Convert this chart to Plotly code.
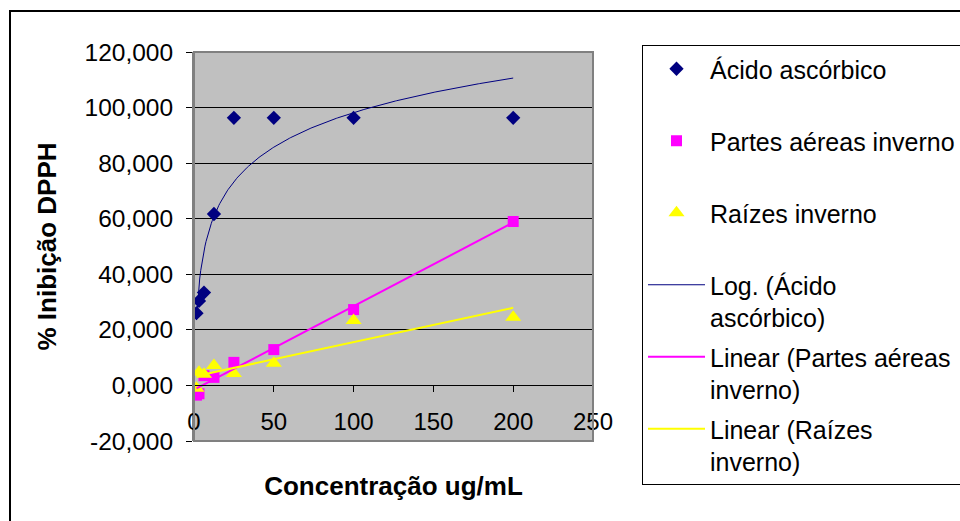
import numpy as np
import plotly.graph_objects as go

# ---- data ----
conc = [1.5625, 3.125, 6.25, 12.5, 25, 50, 100, 200]
acido_ascorbico = [26.0, 30.4, 33.4, 61.7, 96.3, 96.3, 96.3, 96.3]
partes_aereas = [-3.5, -3.0, 3.5, 2.9, 8.3, 12.9, 27.3, 59.0]
raizes = [-1.0, 4.7, 4.0, 7.2, 4.3, 8.0, 23.4, 24.5]

names = ["Ácido ascórbico", "Partes aéreas inverno", "Raízes inverno"]
trend_names = ["Log. (Ácido<br>ascórbico)", "Linear (Partes aéreas<br>inverno)", "Linear (Raízes<br>inverno)"]

y_tick_values = [-20, 0, 20, 40, 60, 80, 100, 120]
y_tick_labels = ["-20,000", "0,000", "20,000", "40,000", "60,000", "80,000", "100,000", "120,000"]
x_tick_values = [0, 50, 100, 150, 200, 250]
x_range = [0, 250]
y_range = [-20, 120]

x_title = "Concentração ug/mL"
y_title = "% Inibição DPPH"

# ---- trendlines (least-squares fits, as Excel does) ----
x = np.array(conc, dtype=float)
a_log, b_log = np.polyfit(np.log(x), np.array(acido_ascorbico), 1)
x_dense = np.linspace(x.min(), x.max(), 300)
y_log = a_log * np.log(x_dense) + b_log
m_p, c_p = np.polyfit(x, np.array(partes_aereas), 1)
m_r, c_r = np.polyfit(x, np.array(raizes), 1)
x_lin = np.array([x.min(), x.max()])

FONT = "Liberation Sans, Arial, sans-serif"
navy = "#000080"
pink = "#FF00FF"
yellow = "#FFFF00"

fig = go.Figure()
fig.add_trace(go.Scatter(x=conc, y=acido_ascorbico, mode="markers", name=names[0] + "<br> ",
                         legendgroup="a", marker=dict(symbol="diamond", size=11, color=navy)))
fig.add_trace(go.Scatter(x=conc, y=partes_aereas, mode="markers", name=names[1] + "<br> ",
                         legendgroup="b", marker=dict(symbol="square", size=11, color=pink)))
fig.add_trace(go.Scatter(x=conc, y=raizes, mode="markers", name=names[2] + "<br> ",
                         legendgroup="c", marker=dict(symbol="triangle-up", size=14, color=yellow)))
fig.add_trace(go.Scatter(x=x_dense, y=y_log, mode="lines", name=trend_names[0],
                         legendgroup="d", line=dict(color=navy, width=1)))
fig.add_trace(go.Scatter(x=x_lin, y=m_p * x_lin + c_p, mode="lines", name=trend_names[1],
                         legendgroup="e", line=dict(color=pink, width=2)))
fig.add_trace(go.Scatter(x=x_lin, y=m_r * x_lin + c_r, mode="lines", name=trend_names[2],
                         legendgroup="f", line=dict(color=yellow, width=2)))

# plot area in pixels: x 194..593, y 52..441
L, R, T, B = 194, 593, 52, 441
W, H = 960, 521
pw, ph = R - L, B - T

def px(xp):
    return (xp - L) / pw

def py(yp):
    return (B - yp) / ph

fig.update_layout(
    width=W, height=H,
    margin=dict(l=L, r=W - R, t=T, b=H - B, autoexpand=False),
    paper_bgcolor="white",
    plot_bgcolor="#C0C0C0",
    separators=",.",
    font=dict(family=FONT, size=24, color="black"),
    showlegend=True,
    legend=dict(
        x=px(642), y=py(45), xanchor="left", yanchor="top",
        bgcolor="white", bordercolor="black", borderwidth=1,
        font=dict(family=FONT, size=25, color="black"),
        valign="top", tracegroupgap=4, itemwidth=57,
        traceorder="grouped", maxheight=600,
    ),
    xaxis=dict(
        range=x_range, tickvals=x_tick_values, showgrid=False, zeroline=False,
        anchor="free", position=(0 - y_range[0]) / (y_range[1] - y_range[0]),
        showline=True, linecolor="black", linewidth=1,
        ticks="outside", ticklen=6, tickcolor="black", tickwidth=1,
        tickfont=dict(family=FONT, size=24, color="black"),
        ticklabelstandoff=9,
        title=dict(text=x_title, font=dict(family=FONT, size=26, color="black", weight="bold"), standoff=42),
    ),
    yaxis=dict(
        range=y_range, tickvals=y_tick_values, ticktext=y_tick_labels,
        showgrid=True, gridcolor="black", gridwidth=1, zeroline=False,
        showline=True, linecolor="#808080", linewidth=2,
        ticks="outside", ticklen=6, tickcolor="black", tickwidth=1,
        tickfont=dict(family=FONT, size=24.5, color="black"),
        ticklabelstandoff=8,
        title=dict(text=y_title, font=dict(family=FONT, size=26, color="black", weight="bold"), standoff=20),
    ),
    shapes=[
        dict(type="rect", xref="paper", yref="paper", x0=0, x1=1, y0=0, y1=1,
             line=dict(color="#808080", width=2), layer="above"),
        dict(type="rect", xref="paper", yref="paper", x0=px(10), x1=px(1000), y0=py(540), y1=py(11),
             line=dict(color="black", width=2), layer="below"),
    ],
)

fig.write_html("out.html", config={"displayModeBar": False},
               post_script="document.body.style.margin='0px';document.body.style.overflow='hidden';")
